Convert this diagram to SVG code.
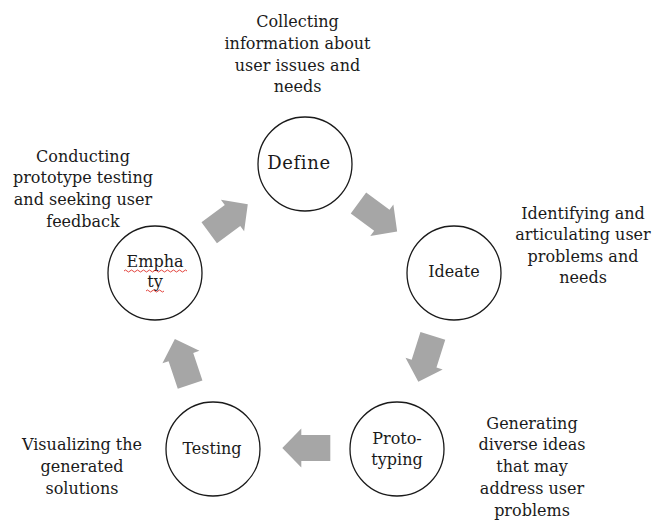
<svg xmlns="http://www.w3.org/2000/svg" width="666" height="525" viewBox="0 0 666 525">
  <style>
    .bg { fill: #ffffff; }
    .node { fill: #ffffff; stroke: #1a1a1a; stroke-width: 1.3; }
    .lbl { font-family: "DejaVu Serif", serif; font-size: 16px; fill: #1a1a1a; text-anchor: middle; }
    .note { font-family: "DejaVu Serif", serif; font-size: 16px; fill: #1a1a1a; text-anchor: middle; }
    .arrow { fill: #a6a6a6; }
    .squiggle { fill: none; stroke: #e0302a; stroke-width: 0.9; }
  </style>
  <defs>
    <polygon id="blockArrow" points="-24,-13 5,-13 5,-19.5 24,0 5,19.5 5,13 -24,13"/>
  </defs>
  <rect class="bg" x="0" y="0" width="666" height="525"/>

  <g id="connectors">
    <use href="#blockArrow" class="arrow" transform="translate(228.5,218.5) rotate(-36.5)"/>
    <use href="#blockArrow" class="arrow" transform="translate(377.8,217.3) rotate(36.3)"/>
    <use href="#blockArrow" class="arrow" transform="translate(425.6,358.8) rotate(107.6)"/>
    <use href="#blockArrow" class="arrow" transform="translate(306.3,448) rotate(180)"/>
    <use href="#blockArrow" class="arrow" transform="translate(182.5,361.8) rotate(-108.5)"/>
  </g>

  <g id="node-define">
    <circle class="node" cx="305" cy="164" r="47"/>
    <text class="lbl" x="299" y="169" style="font-size:18px;letter-spacing:0.6px">Define</text>
  </g>
  <g id="node-ideate">
    <circle class="node" cx="454" cy="273" r="47"/>
    <text class="lbl" x="454" y="277">Ideate</text>
  </g>
  <g id="node-prototyping">
    <circle class="node" cx="397" cy="449" r="47"/>
    <text class="lbl" x="397" y="444">Proto-</text>
    <text class="lbl" x="397" y="465">typing</text>
  </g>
  <g id="node-testing">
    <circle class="node" cx="213" cy="449" r="47"/>
    <text class="lbl" x="212" y="454">Testing</text>
  </g>
  <g id="node-empathy">
    <circle class="node" cx="155" cy="273" r="47"/>
    <text class="lbl" x="155" y="267">Empha</text>
    <text class="lbl" x="155" y="287">ty</text>
    <path class="squiggle" d="M124,271 q1.5,-2 3,0 t3,0 t3,0 t3,0 t3,0 t3,0 t3,0 t3,0 t3,0 t3,0 t3,0 t3,0 t3,0 t3,0 t3,0 t3,0 t3,0 t3,0 t3,0 t3,0 t3,0"/>
    <path class="squiggle" d="M146,291 q1.5,-2 3,0 t3,0 t3,0 t3,0 t3,0 t3,0"/>
  </g>

  <g id="notes">
    <text class="note" x="297.5" y="26.5">Collecting</text>
    <text class="note" x="297.5" y="48.5">information about</text>
    <text class="note" x="297.5" y="70.5">user issues and</text>
    <text class="note" x="297.5" y="91.5">needs</text>

    <text class="note" x="583" y="218.5">Identifying and</text>
    <text class="note" x="583" y="240">articulating user</text>
    <text class="note" x="583" y="261.5">problems and</text>
    <text class="note" x="583" y="283">needs</text>

    <text class="note" x="83" y="161.5">Conducting</text>
    <text class="note" x="83" y="183">prototype testing</text>
    <text class="note" x="83" y="205">and seeking user</text>
    <text class="note" x="83" y="226.5">feedback</text>

    <text class="note" x="82" y="450">Visualizing the</text>
    <text class="note" x="82" y="472">generated</text>
    <text class="note" x="82" y="493.5">solutions</text>

    <text class="note" x="532" y="428.5">Generating</text>
    <text class="note" x="532" y="450">diverse ideas</text>
    <text class="note" x="532" y="472">that may</text>
    <text class="note" x="532" y="494">address user</text>
    <text class="note" x="532" y="516">problems</text>
  </g>
</svg>
